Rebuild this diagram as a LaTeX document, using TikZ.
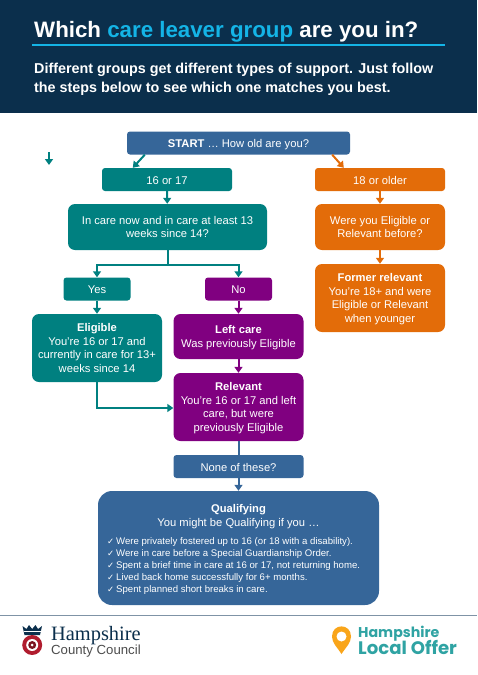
\documentclass[tikz,border=0pt]{standalone}
\usepackage{fontspec}
\setmainfont{Liberation Sans}
\newfontfamily\serifface{Liberation Serif}
\newfontfamily\offerface{Poppins}
\newfontfamily\tickface{DejaVu Sans}
\usetikzlibrary{arrows.meta}
\usetikzlibrary{positioning}
\definecolor{headnavy}{HTML}{0B2F4C}
\definecolor{titlecyan}{HTML}{14B4E6}
\definecolor{flowblue}{HTML}{366699}
\definecolor{flowteal}{HTML}{008080}
\definecolor{floworange}{HTML}{E36C09}
\definecolor{flowpurple}{HTML}{800080}
\definecolor{rulegray}{HTML}{7F93A6}
\definecolor{offerteal}{HTML}{2FA3A3}
\definecolor{pinorange}{HTML}{F9A51A}
\definecolor{crestred}{HTML}{B01C2E}
\newcommand{\qualtick}{\makebox[9pt][l]{\tickface\fontsize{8.5}{12}\selectfont ✓}}
\tikzset{
  box/.style={text=white, align=center, inner sep=0pt, text depth=0pt,
    font=\fontsize{11.2}{13.7}\selectfont},
  smallbox/.style={box, rounded corners=3pt, minimum height=23pt, text height=9.5pt, text depth=0.5pt},
  midbox/.style={box, rounded corners=7pt, minimum width=130pt, text depth=-1.5pt},
  link/.style={-{Triangle[length=6pt,width=8pt]}, line width=2pt},
}
\begin{document}
\begin{tikzpicture}[x=1pt, y=-1pt]
  \useasboundingbox (0,0) rectangle (477,675);
  % header
  \fill [headnavy] (0,0) rectangle (477,113);
  \draw [titlecyan, line width=1.5pt] (32,45) -- (445,45);
  \node [anchor=base west, inner sep=0pt, text=white, font=\fontsize{22.3}{26}\selectfont\bfseries] (title) at (34,37)
    {Which \textcolor{titlecyan}{care leaver group} are you in?};
  \node [anchor=base west, inner sep=0pt, text=white, align=left, font=\fontsize{14.35}{19}\selectfont\bfseries] (intro) at (34,92)
    {Different groups get different types of support. Just follow\\the steps below to see which one matches you best.};

  % boxes
  \node [smallbox, fill=flowblue, minimum width=223pt] (start) at (238.5,143) {\textbf{START} … How old are you?};
  \node [smallbox, fill=flowteal, minimum width=130pt] (young) at (167,179.5) {16 or 17};
  \node [smallbox, fill=floworange, minimum width=130pt] (older) at (380,179.5) {18 or older};
  \node [midbox, fill=flowteal, minimum width=199pt, minimum height=46pt] (incare) at (167.5,227) {In care now and in care at least 13\\weeks since 14?};
  \node [midbox, fill=floworange, minimum height=46pt] (before) at (380,227) {Were you Eligible or\\Relevant before?};
  \node [midbox, fill=floworange, minimum height=68pt] (former) at (380,298) {\textbf{Former relevant}\\You’re 18+ and were\\Eligible or Relevant\\when younger};
  \node [smallbox, fill=flowteal, minimum width=67pt] (yes) at (97,289) {Yes};
  \node [smallbox, fill=flowpurple, minimum width=67pt] (no) at (238.5,289) {No};
  \node [midbox, fill=flowteal, minimum height=68pt] (eligible) at (97,348) {\textbf{Eligible}\\You’re 16 or 17 and\\currently in care for 13+\\weeks since 14};
  \node [midbox, fill=flowpurple, minimum height=45pt] (leftcare) at (238.5,336.5) {\textbf{Left care}\\Was previously Eligible};
  \node [midbox, fill=flowpurple, minimum height=68pt] (relevant) at (238.5,407) {\textbf{Relevant}\\You’re 16 or 17 and left\\care, but were\\previously Eligible};
  \node [smallbox, fill=flowblue, minimum width=130pt] (none) at (238.5,466.5) {None of these?};
  \node [box, fill=flowblue, rounded corners=14pt, minimum width=281pt, minimum height=114pt] (qualifying) at (238.5,548) {};
  \node [box, anchor=north] (qualhead) at (238.5,504) {\textbf{Qualifying}\\You might be Qualifying if you …};
  \node [anchor=north west, inner sep=0pt, text=white, align=left, font=\fontsize{9.6}{12}\selectfont] (quallist) at (107,537.5)
    {\qualtick Were privately fostered up to 16 (or 18 with a disability).\\
     \qualtick Were in care before a Special Guardianship Order.\\
     \qualtick Spent a brief time in care at 16 or 17, not returning home.\\
     \qualtick Lived back home successfully for 6+ months.\\
     \qualtick Spent planned short breaks in care.};

  % connectors
  \draw [link, flowteal] ([xshift=18pt]start.south west) -- ([xshift=31pt]young.north west);
  \draw [link, floworange] ([xshift=-18pt]start.south east) -- ([xshift=29pt]older.north west);
  \draw [link, flowteal] (young) -- (incare);
  \draw [link, floworange] (older) -- (before);
  \draw [link, floworange] (before) -- (former);
  \draw [link, flowteal] (incare.south) -- ++(0,14.5) -| (yes.north);
  \draw [link, flowteal] (incare.south) -- ++(0,14.5) -| (no.north);
  \draw [link, flowteal] (yes) -- (eligible);
  \draw [link, flowpurple] (no) -- (leftcare);
  \draw [link, flowpurple] (leftcare) -- (relevant);
  \draw [link, flowteal] (eligible.south) |- ([yshift=-1pt]relevant.west);
  \draw [flowblue, line width=2pt] (relevant) -- (none);
  \draw [link, flowblue] (none) -- (qualifying);
  \coordinate (straytop) at (49,152);
  \coordinate (straybot) at (49,165);
  \draw [link, flowteal] (straytop) -- (straybot);

  % footer
  \draw [rulegray, line width=1pt] (0,615.5) -- (477,615.5);
  \fill [headnavy] (22.5,626) -- (24.5,635) -- (40,635) -- (42,626) -- (38,629) -- (35.5,625) -- (32.2,629) -- (29,625) -- (26.5,629) -- cycle;
  \draw [white, line width=1pt] (24,631.5) -- (40.5,631.5);
  \fill [crestred] (32.2,645) circle (10);
  \fill [white] (32.2,645) circle (6);
  \fill [crestred!70!black] (32.2,645) circle (4);
  \fill [white] (32.2,645) circle (1.5);
  \node [anchor=base west, inner sep=0pt, text=headnavy, font=\serifface\fontsize{20.4}{20}\selectfont] (hampshire) at (51,640) {Hampshire};
  \node [anchor=base west, inner sep=0pt, text=black!70, font=\fontsize{13.2}{14}\selectfont] (county) at (51,654) {County Council};
  \fill [pinorange] (341.5,654) .. controls (337,647) and (332,643) .. (332,636.5)
    .. controls (332,623) and (351,623) .. (351,636.5) .. controls (351,643) and (346,647) .. (341.5,654);
  \fill [white] (341.5,636.5) circle (5);
  \node [anchor=base west, inner sep=0pt, text=offerteal, font=\offerface\bfseries\fontsize{14.2}{14}\selectfont] (offerone) at (358,637) {Hampshire};
  \node [anchor=base west, inner sep=0pt, text=offerteal, font=\offerface\bfseries\fontsize{18.1}{17}\selectfont] (offertwo) at (358,654) {Local Offer};
\end{tikzpicture}
\end{document}
